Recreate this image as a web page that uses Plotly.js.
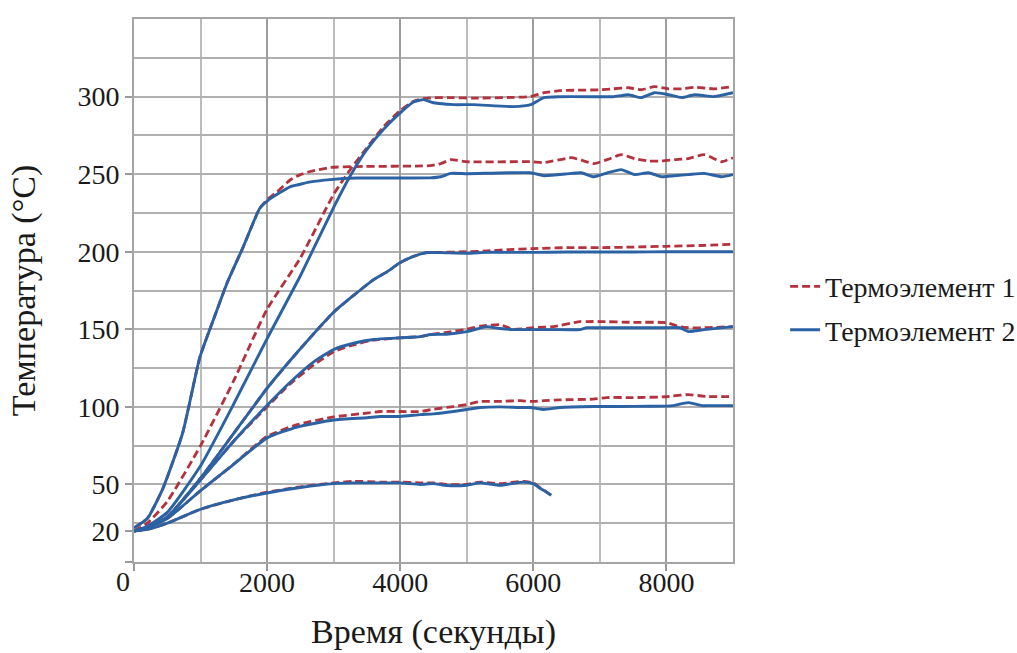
<!DOCTYPE html>
<html><head><meta charset="utf-8">
<script src="https://cdn.plot.ly/plotly-3.0.1.min.js"></script>
<style>html,body{margin:0;padding:0;background:#fff}#chart{width:1017px;height:653px}</style>
</head><body><div id="chart"></div>
<script>
// Time (s) and temperatures (°C) for six heating runs; tc1 = Термоэлемент 1, tc2 = Термоэлемент 2
const tA = [0, 200, 430, 730, 990, 1200, 1400, 1640, 1890, 2010, 2150, 2350, 2500, 2650, 2950, 3350, 4450, 4610, 4760, 5010, 5960, 6160, 6570, 6720, 6910, 7120, 7320, 7520, 7730, 7930, 8120, 8330, 8570, 8830, 9000];
const A_tc1 = [22, 28, 47, 83, 132, 157, 180, 203, 228, 234, 238.6, 246.4, 249.7, 251.7, 254.3, 254.9, 255.5, 256.8, 259.3, 258, 258, 257.4, 260.6, 259, 256.8, 259.5, 262.6, 260, 258.5, 258.5, 259.3, 260, 262.6, 258, 260.6];
const A_tc2 = [22, 28, 47, 83, 132, 157, 180, 203, 228, 233, 237, 242, 243.5, 245, 246.5, 247.5, 247.6, 248.3, 250.5, 250.3, 250.9, 249, 250.5, 250.9, 248.3, 250.9, 252.9, 249.7, 250.9, 248.3, 249, 249.7, 250.5, 248.3, 249.7];

const tB = [0, 200, 500, 1000, 1500, 2000, 2500, 3000, 3250, 3500, 3750, 4000, 4200, 4350, 4500, 4800, 5100, 5700, 5960, 6160, 6400, 7000, 7200, 7430, 7620, 7820, 8030, 8230, 8420, 8720, 9000];
const B_tc1 = [20, 25, 39, 75, 117, 163, 196, 237, 253, 267, 280.6, 291, 297, 298.6, 299.3, 299.3, 299, 299.5, 300, 302.5, 303.8, 304.4, 305, 305.7, 304.4, 306.4, 305, 305, 306, 305, 306.4];
const B_tc2 = [20, 23, 32, 62, 102, 144, 184.5, 228.6, 249, 266, 279, 289.5, 296.5, 298, 296, 294.8, 294.8, 293.5, 294.8, 299.3, 299.9, 299.9, 299.9, 301.2, 299.3, 302.5, 301.2, 299.3, 301.2, 300, 302.5];

const tC = [0, 200, 500, 1000, 1500, 2000, 2450, 3000, 3600, 3800, 4000, 4200, 4400, 4600, 5000, 5300, 5600, 6000, 6500, 7000, 7500, 8000, 8500, 9000];
const C_tc1 = [20, 22, 29, 54, 83, 112, 135, 161, 182, 187, 193, 197, 199.4, 199.6, 200, 200.5, 201.3, 202, 202.6, 202.6, 203, 203.5, 204, 204.8];
const C_tc2 = [20, 22, 29, 54, 83, 112, 135, 161, 182, 187, 193, 197, 199.4, 199.4, 199, 199.6, 199.6, 199.6, 199.8, 199.8, 199.8, 200, 200, 200];

const tD = [0, 200, 500, 1000, 1500, 2000, 2350, 2700, 3000, 3300, 3600, 4000, 4300, 4460, 4700, 5000, 5200, 5300, 5500, 5700, 6000, 6300, 6700, 6800, 7000, 7500, 8000, 8200, 8330, 8570, 9000];
const D_tc1 = [20, 22, 29, 53, 78, 100, 115, 127, 135.5, 140, 143, 144.5, 145.3, 146.6, 148, 150, 152, 152.5, 153, 150, 151, 151.7, 155, 155, 155, 154.5, 154.3, 151.7, 151, 151, 151.7];
const D_tc2 = [20, 22, 29, 53, 78, 101, 116, 129, 137, 141, 143.4, 144.5, 145.3, 146.6, 146.8, 148.5, 150.8, 151.7, 150.5, 149.8, 149.8, 149.8, 149.8, 151, 151, 151, 151, 151, 148.5, 149.8, 151.7];

const tE = [0, 200, 500, 1000, 1440, 2000, 2450, 3000, 3500, 3700, 4000, 4300, 4500, 4800, 5000, 5200, 5500, 5800, 5960, 6160, 6400, 6900, 7100, 7500, 8000, 8100, 8330, 8530, 8630, 9000];
const E_tc1 = [20, 22, 28, 46, 61, 81, 88.5, 93.5, 96, 97, 97, 97, 98.5, 100.2, 101.5, 103.4, 103.5, 104, 103.5, 104, 104.5, 105, 106, 106, 106.5, 107, 107.9, 107, 106.6, 106.6];
const E_tc2 = [20, 22, 28, 46, 61, 80, 87, 91.5, 93, 93.8, 93.8, 95, 95.5, 97, 98.3, 99.6, 100, 99.6, 99.6, 98.3, 99.6, 100.2, 100.2, 100.3, 100.5, 100.8, 102.7, 100.8, 100.8, 100.8];

const tF = [0, 200, 500, 1000, 1500, 2000, 2500, 3000, 3300, 3700, 4000, 4300, 4500, 4700, 5000, 5200, 5500, 5850, 6000, 6100, 6200, 6270];
const F_tc1 = [20, 21, 25, 34, 40, 45, 48.5, 51, 52, 51.5, 51.5, 51, 51, 50, 50, 51.5, 50.5, 52, 51, 48, 45, 43];
const F_tc2 = [20, 21, 25, 34, 40, 44.5, 48, 50.5, 51, 51, 51, 50, 50.5, 49.3, 49.5, 51, 49.5, 51.5, 50.5, 47.5, 45, 43];

const seriesNames = ['Термоэлемент 1', 'Термоэлемент 2'];
const yTickVals = [0, 20, 50, 100, 150, 200, 250, 300];
const yTickText = ['', '20', '50', '100', '150', '200', '250', '300'];
const xTickVals = [0, 2000, 4000, 6000, 8000];
const xTickText = ['', '2000', '4000', '6000', '8000'];

const runs = [
  {t: tA, tc1: A_tc1, tc2: A_tc2},
  {t: tB, tc1: B_tc1, tc2: B_tc2},
  {t: tC, tc1: C_tc1, tc2: C_tc2},
  {t: tD, tc1: D_tc1, tc2: D_tc2},
  {t: tE, tc1: E_tc1, tc2: E_tc2},
  {t: tF, tc1: F_tc1, tc2: F_tc2}
];

const RED = '#b3323d';
const BLUE = '#2a62a3';
const traces = [];
runs.forEach((r, i) => traces.push({
  x: r.t, y: r.tc1, type: 'scatter', mode: 'lines',
  name: seriesNames[0], legendgroup: 'tc1', showlegend: i === 0,
  line: {color: RED, width: 2.8, dash: '8px,4px', shape: 'spline', smoothing: 0.5}, hoverinfo: 'x+y'
}));
runs.forEach((r, i) => traces.push({
  x: r.t, y: r.tc2, type: 'scatter', mode: 'lines',
  name: seriesNames[1], legendgroup: 'tc2', showlegend: i === 0,
  line: {color: BLUE, width: 2.9, shape: 'spline', smoothing: 0.5}, hoverinfo: 'x+y'
}));

const FONT = 'Liberation Serif';
const TXT = '#1a1a1a';
const layout = {
  width: 1017, height: 653,
  margin: {l: 134, r: 284, t: 19, b: 91, pad: 0, autoexpand: false},
  paper_bgcolor: '#ffffff', plot_bgcolor: '#ffffff',
  font: {family: FONT, color: TXT, size: 28},
  showlegend: true,
  xaxis: {
    range: [0, 9000], tickmode: 'array', tickvals: xTickVals, ticktext: xTickText,
    ticks: 'outside', ticklen: 7, tickwidth: 2, tickcolor: '#9a9a9a',
    ticklabelstandoff: -13,
    showgrid: true, gridcolor: '#9e9e9e', gridwidth: 2,
    minor: {dtick: 1000, tick0: 0, showgrid: true, gridcolor: '#bcbcbc', gridwidth: 2},
    showline: true, mirror: true, linecolor: '#a5a5a5', linewidth: 2, zeroline: false,
    tickfont: {size: 28, family: FONT, color: TXT},
    title: {text: 'Время (секунды)', font: {size: 34, family: FONT, color: TXT}, standoff: 23}
  },
  yaxis: {
    range: [0, 350], tickmode: 'array', tickvals: yTickVals, ticktext: yTickText,
    ticks: 'outside', ticklen: 7, tickwidth: 2, tickcolor: '#9a9a9a',
    showgrid: false,
    minor: {dtick: 25, tick0: 0, showgrid: true, gridcolor: '#b0b0b0', gridwidth: 2},
    showline: true, mirror: true, linecolor: '#a5a5a5', linewidth: 2, zeroline: false,
    tickfont: {size: 28, family: FONT, color: TXT},
    title: {text: 'Температура (°C)', font: {size: 34, family: FONT, color: TXT}, standoff: 32}
  },
  legend: {
    x: 1.087, xanchor: 'left', y: 0.553, yanchor: 'top',
    font: {size: 28, family: FONT, color: TXT},
    tracegroupgap: 4, bgcolor: 'rgba(0,0,0,0)'
  },
  annotations: [{
    x: 0, y: 0, xref: 'x', yref: 'y', text: '0', showarrow: false,
    xanchor: 'right', yanchor: 'top', xshift: -2, yshift: -2,
    font: {size: 28, family: FONT, color: TXT}
  }]
};

Plotly.newPlot('chart', traces, layout, {displayModeBar: false, staticPlot: true});
</script>
</body></html>
